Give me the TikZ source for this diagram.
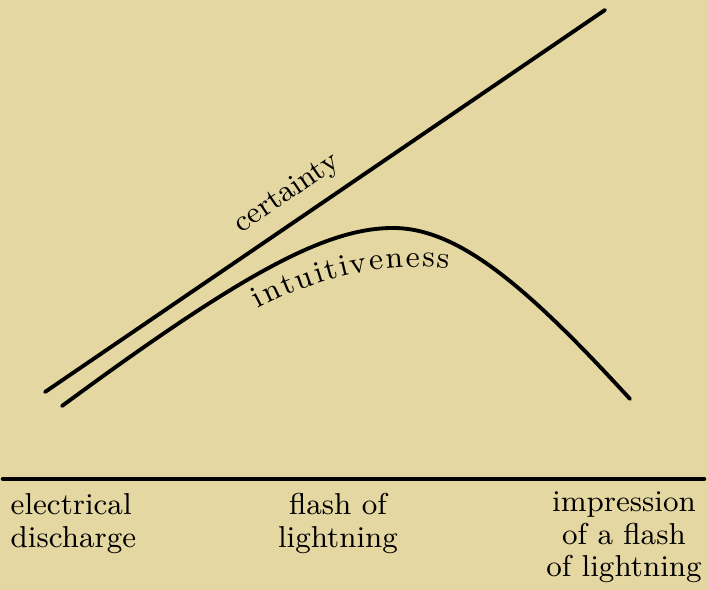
\documentclass[tikz,border=0pt]{standalone}
\usepackage{xcolor}
\usepackage{tikz}
\usetikzlibrary{positioning,decorations.text}
\definecolor{paper}{RGB}{229,215,161}
\tikzset {
    trend/.style={draw, line width=1.1pt, line cap=round},
    axisline/.style={draw, line width=1.3pt, line cap=round},
    stagelabel/.style={inner sep=0pt, anchor=north,
        font=\fontsize{8.6}{9.3}\selectfont},
    curvelabel/.style={inner sep=0pt, font=\fontsize{8.6}{9}\selectfont}
}
\begin{document}
\begin{tikzpicture}

        \fill[paper] (0,0) rectangle (7.07,5.90);
        \useasboundingbox (0,0) rectangle (7.07,5.90);

        \coordinate (C0) at (0.45,1.98);
        \coordinate (C1) at (6.05,5.80);
        \coordinate (I0) at (0.62,1.84);
        \coordinate (Ip) at (3.93,3.62);
        \coordinate (I1) at (6.30,1.91);
        \coordinate (T0) at (2.58,2.81);
        \coordinate (T1) at (4.49,3.21);
        \coordinate (A0) at (0.03,1.11);
        \coordinate (A1) at (7.04,1.11);

        \draw[trend] (C0) -- (C1)
            node[curvelabel, pos=0.46, sloped, above=3.5pt] (certainty) {certainty};
        \draw[trend] (I0) .. controls (2.40,3.15) and (3.25,3.62) .. (Ip)
            .. controls (4.60,3.62) and (5.30,3.00) .. (I1);
        \path[decorate, decoration={text along path,
            text={|\fontsize{8.8}{9}\selectfont|intuitiveness},
            text align={fit to path}}]
            (T0) .. controls (3.17,3.13) and (3.89,3.29) .. (T1);

        \draw[axisline] (A0) -- (A1);

        \node[stagelabel, anchor=north west, align=left] (discharge)
            at (0.10,0.97) {electrical\\discharge};
        \node[stagelabel, align=center] (flash)
            at (3.38,0.97) {flash of\\lightning};
        \node[stagelabel, align=center] (impression)
            at (6.24,0.99) {impression\\of a flash\\of lightning};

    \end{tikzpicture}
\end{document}
